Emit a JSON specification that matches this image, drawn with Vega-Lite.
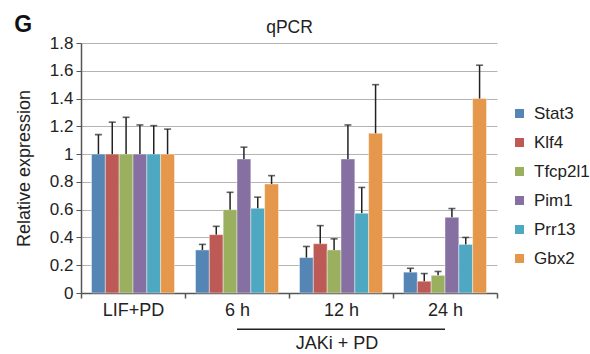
{
  "$schema": "https://vega.github.io/schema/vega-lite/v6.json",
  "width": 416,
  "height": 250,
  "autosize": {"type": "none"},
  "padding": {"left": 81, "top": 43, "right": 93, "bottom": 61},
  "background": "white",
  "title": {"text": "G", "anchor": "start", "frame": "bounds", "fontSize": 23, "fontWeight": "bold", "color": "#111", "baseline": "alphabetic", "offset": 0, "dy": 37, "dx": -1},
  "datasets": {
    "expr": [
      {"group": "LIF+PD", "gene": "Stat3", "value": 1.0, "upper": 1.14},
      {"group": "LIF+PD", "gene": "Klf4", "value": 1.0, "upper": 1.23},
      {"group": "LIF+PD", "gene": "Tfcp2l1", "value": 1.0, "upper": 1.265},
      {"group": "LIF+PD", "gene": "Pim1", "value": 1.0, "upper": 1.21},
      {"group": "LIF+PD", "gene": "Prr13", "value": 1.0, "upper": 1.205},
      {"group": "LIF+PD", "gene": "Gbx2", "value": 1.0, "upper": 1.18},
      {"group": "6 h", "gene": "Stat3", "value": 0.31, "upper": 0.35},
      {"group": "6 h", "gene": "Klf4", "value": 0.42, "upper": 0.48},
      {"group": "6 h", "gene": "Tfcp2l1", "value": 0.60, "upper": 0.725},
      {"group": "6 h", "gene": "Pim1", "value": 0.965, "upper": 1.05},
      {"group": "6 h", "gene": "Prr13", "value": 0.61, "upper": 0.69},
      {"group": "6 h", "gene": "Gbx2", "value": 0.785, "upper": 0.845},
      {"group": "12 h", "gene": "Stat3", "value": 0.255, "upper": 0.335},
      {"group": "12 h", "gene": "Klf4", "value": 0.355, "upper": 0.485},
      {"group": "12 h", "gene": "Tfcp2l1", "value": 0.31, "upper": 0.39},
      {"group": "12 h", "gene": "Pim1", "value": 0.965, "upper": 1.21},
      {"group": "12 h", "gene": "Prr13", "value": 0.575, "upper": 0.76},
      {"group": "12 h", "gene": "Gbx2", "value": 1.15, "upper": 1.50},
      {"group": "24 h", "gene": "Stat3", "value": 0.15, "upper": 0.178},
      {"group": "24 h", "gene": "Klf4", "value": 0.085, "upper": 0.14},
      {"group": "24 h", "gene": "Tfcp2l1", "value": 0.127, "upper": 0.155},
      {"group": "24 h", "gene": "Pim1", "value": 0.545, "upper": 0.608},
      {"group": "24 h", "gene": "Prr13", "value": 0.35, "upper": 0.40},
      {"group": "24 h", "gene": "Gbx2", "value": 1.40, "upper": 1.64}
    ],
    "bracket": [
      {"from": "6 h", "to": "24 h", "label": "JAKi + PD"}
    ]
  },
  "resolve": {"axis": {"x": "independent", "y": "independent"}},
  "layer": [
    {
      "data": {"name": "expr"},
      "mark": {"type": "bar", "stroke": "#ffffff", "strokeWidth": 0.6, "strokeOpacity": 0.7},
      "encoding": {
        "x": {"field": "group", "type": "nominal", "sort": null,
          "scale": {"domain": ["LIF+PD", "6 h", "12 h", "24 h"], "paddingInner": 0, "paddingOuter": 0},
          "axis": {"orient": "bottom", "title": null, "labelAngle": 0, "tickBand": "extent", "tickSize": 5, "labelPadding": 3, "labelFontSize": 18, "domainColor": "#555", "domainWidth": 1.5, "tickColor": "#555", "tickWidth": 1.5, "grid": false}},
        "xOffset": {"field": "gene", "type": "nominal",
          "scale": {"domain": ["Stat3", "Klf4", "Tfcp2l1", "Pim1", "Prr13", "Gbx2"], "paddingInner": 0, "paddingOuter": 0.76}},
        "y": {"field": "value", "type": "quantitative",
          "scale": {"domain": [0, 1.8], "nice": false, "zero": true},
          "axis": {"title": "Relative expression", "titleFontSize": 18, "values": [0, 0.2, 0.4, 0.6, 0.8, 1, 1.2, 1.4, 1.6, 1.8], "format": "~g", "labelOverlap": false, "tickSize": 5, "labelPadding": 3, "domainColor": "#555", "domainWidth": 1.5, "tickColor": "#555", "gridColor": "#b4b4b4", "gridWidth": 1, "titlePadding": 16}},
        "color": {"field": "gene", "type": "nominal",
          "scale": {"domain": ["Stat3", "Klf4", "Tfcp2l1", "Pim1", "Prr13", "Gbx2"], "range": ["#5585b5", "#bd5a55", "#9bb05f", "#8670a2", "#4fa8c1", "#e5974b"]},
          "legend": {"orient": "none", "legendX": 430, "legendY": 62, "title": null, "symbolType": "square", "symbolSize": 81, "symbolStrokeWidth": 0, "rowPadding": 11, "labelOffset": 6, "padding": 0}}
      }
    },
    {
      "data": {"name": "expr"},
      "mark": {"type": "rule", "color": "#222", "strokeWidth": 1.5},
      "encoding": {
        "x": {"field": "group", "type": "nominal", "sort": null, "axis": null},
        "xOffset": {"field": "gene", "type": "nominal"},
        "y": {"field": "value", "type": "quantitative", "axis": null},
        "y2": {"field": "upper"}
      }
    },
    {
      "data": {"name": "expr"},
      "mark": {"type": "tick", "color": "#222", "thickness": 1.6, "size": 7, "orient": "horizontal"},
      "encoding": {
        "x": {"field": "group", "type": "nominal", "sort": null,
          "axis": {"orient": "top", "title": "qPCR", "titleFontSize": 17.5, "labels": false, "ticks": false, "domain": false, "grid": false, "titlePadding": 11, "titleBaseline": "alphabetic"}},
        "xOffset": {"field": "gene", "type": "nominal"},
        "y": {"field": "upper", "type": "quantitative", "axis": null}
      }
    },
    {
      "data": {"name": "bracket"},
      "mark": {"type": "rule", "color": "#222", "strokeWidth": 1.5},
      "encoding": {
        "x": {"field": "from", "type": "nominal", "axis": null},
        "x2": {"field": "to"},
        "y": {"datum": -0.261, "axis": null}
      }
    },
    {
      "data": {"name": "bracket"},
      "mark": {"type": "text", "fontSize": 18, "color": "#222", "baseline": "middle", "dx": -4},
      "encoding": {
        "x": {"datum": "12 h", "axis": null},
        "y": {"datum": -0.367, "axis": null},
        "text": {"field": "label"}
      }
    }
  ],
  "config": {
    "font": "Liberation Sans",
    "view": {"stroke": null},
    "axis": {"labelFont": "Liberation Sans", "labelFontSize": 17, "labelColor": "#222", "titleFont": "Liberation Sans", "titleFontSize": 17, "titleFontWeight": "normal", "titleColor": "#222"},
    "legend": {"labelFont": "Liberation Sans", "labelFontSize": 17, "labelColor": "#222"}
  }
}
